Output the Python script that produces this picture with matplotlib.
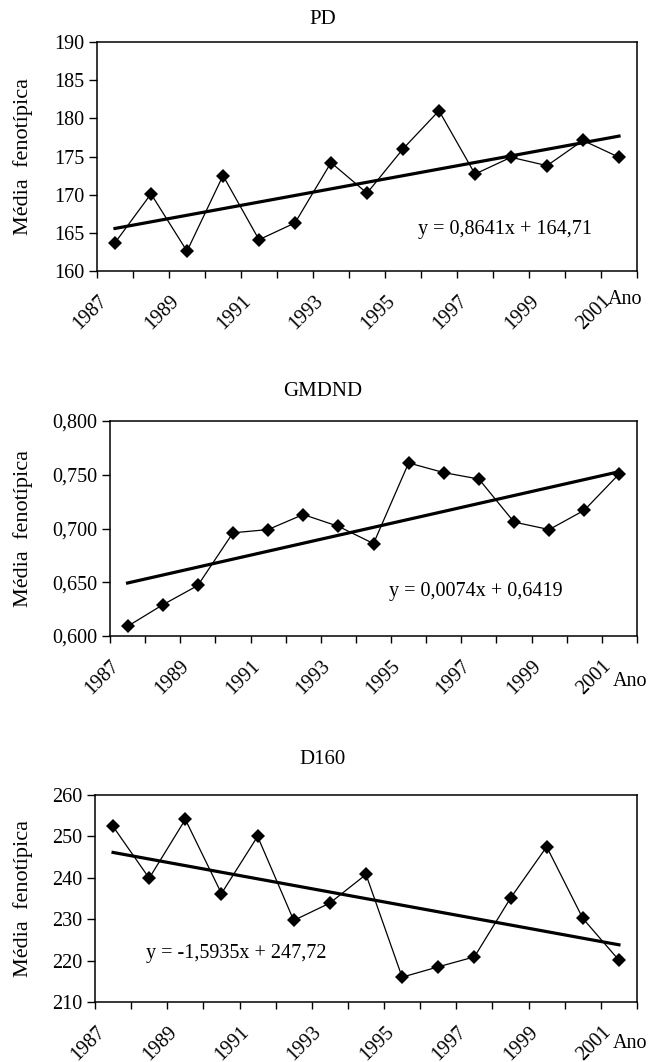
import numpy as np
import matplotlib
matplotlib.use('Agg')
import matplotlib.pyplot as plt
from matplotlib.transforms import ScaledTranslation

plt.rcParams['font.family'] = ['Liberation Serif', 'DejaVu Serif']

# Anos (categorias do eixo x)
years = ['1987', '1988', '1989', '1990', '1991', '1992', '1993', '1994',
         '1995', '1996', '1997', '1998', '1999', '2000', '2001']

# Médias fenotípicas por ano
pd_vals = [163.7, 170.1, 162.6, 172.5, 164.1, 166.3, 174.2, 170.2,
           176.0, 181.0, 172.7, 174.9, 173.8, 177.1, 174.9]
gmdnd_vals = [0.609, 0.629, 0.647, 0.696, 0.699, 0.713, 0.702, 0.686,
              0.761, 0.752, 0.746, 0.706, 0.699, 0.717, 0.751]
d160_vals = [252.4, 239.9, 254.1, 236.2, 250.0, 229.7, 233.9, 240.8,
             216.0, 218.5, 220.9, 235.1, 247.5, 230.2, 220.1]

# Coeficientes das linhas de tendência (slope, intercept)
pd_fit = (0.8641, 164.71)
gmdnd_fit = (0.0074, 0.6419)
d160_fit = (-1.5935, 247.72)

W, H = 661, 1062
fig = plt.figure(figsize=(W / 100, H / 100), dpi=100)


def px_rect(left, right, top, bottom):
    return [left / W, 1 - bottom / H, (right - left) / W, (bottom - top) / H]


panels = [
    dict(title='PD', vals=pd_vals, fit=pd_fit, rect=px_rect(97, 637, 42, 271),
         title_y=20, ylim=(160, 190), yticks=np.arange(160, 191, 5), fmt='{:.0f}',
         eq='y = 0,8641x + 164,71', eq_pos=(0.755, 0.182), ano=(-29, -29)),
    dict(title='GMDND', vals=gmdnd_vals, fit=gmdnd_fit, rect=px_rect(110, 637, 421, 636),
         title_y=391, ylim=(0.6, 0.8), yticks=np.arange(0.6, 0.801, 0.05), fmt='{:.3f}',
         eq='y = 0,0074x + 0,6419', eq_pos=(0.694, 0.205), ano=(-24, -45)),
    dict(title='D160', vals=d160_vals, fit=d160_fit, rect=px_rect(95, 637, 795, 1002),
         title_y=759, ylim=(210, 260), yticks=np.arange(210, 261, 10), fmt='{:.0f}',
         eq='y = -1,5935x + 247,72', eq_pos=(0.26, 0.232), ano=(-24, -41)),
]

x = np.arange(1, len(years) + 1)

for p in panels:
    ax = fig.add_axes(p['rect'])
    ax.plot(x, p['vals'], color='black', lw=0.9, marker='D', ms=7.5,
            markeredgewidth=0, zorder=3)
    slope, intercept = p['fit']
    ax.plot(x, slope * x + intercept, color='black', lw=2.3, zorder=2)

    ax.set_xlim(0.5, len(years) + 0.5)
    ax.set_ylim(*p['ylim'])
    ax.set_yticks(p['yticks'])
    ax.set_yticklabels([p['fmt'].format(v).replace('.', ',') for v in p['yticks']])

    # marcas entre categorias, rótulos a cada dois anos
    ax.set_xticks(np.arange(0.5, len(years) + 1, 1.0))
    ax.set_xticklabels([])
    ax.set_xticks(x[::2], minor=True)
    ax.set_xticklabels(years[::2], minor=True, rotation=45, ha='right',
                       va='center', rotation_mode='anchor', fontsize=14.5)
    ax.tick_params(axis='x', which='minor', length=0, pad=20)
    ax.tick_params(axis='x', which='major', length=5, width=1, direction='out')
    ax.tick_params(axis='y', length=6, width=1, direction='out', labelsize=14.5, pad=3)
    offset = ScaledTranslation(-11 / 100, 0, fig.dpi_scale_trans)
    for lab in ax.get_xticklabels(minor=True):
        lab.set_transform(lab.get_transform() + offset)

    for s in ax.spines.values():
        s.set_linewidth(1.1)

    r = p['rect']
    fig.text(23 / W, r[1] + r[3] / 2, 'Média  fenotípica', rotation=90,
             ha='center', va='center', fontsize=16)

    ax.text(p['eq_pos'][0], p['eq_pos'][1], p['eq'], transform=ax.transAxes,
            ha='center', va='center', fontsize=14.5)
    ax.annotate('Ano', xy=(1, 0), xycoords='axes fraction', xytext=p['ano'],
                textcoords='offset pixels', ha='left', va='center', fontsize=14.5)

    fig.text(323 / W, 1 - p['title_y'] / H, p['title'], ha='center', va='center',
             fontsize=15)

fig.savefig('out.png', dpi=100, facecolor='white')
